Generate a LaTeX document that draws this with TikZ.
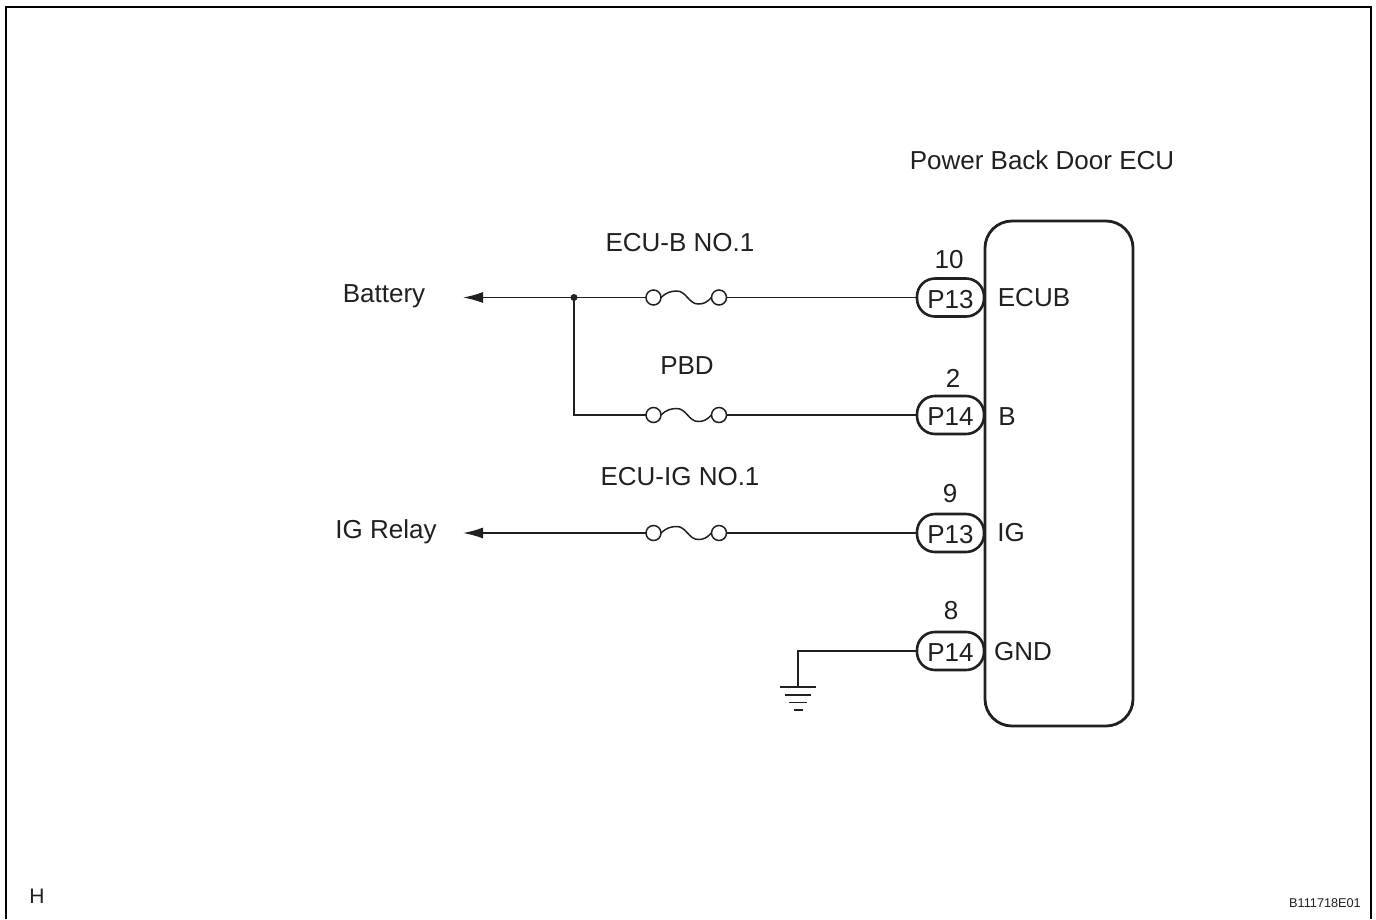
\documentclass[tikz,border=0pt]{standalone}
\usepackage{fontspec}
\setmainfont{Liberation Sans}
\usetikzlibrary{arrows.meta,calc}
\definecolor{ink}{RGB}{35,31,32}
\tikzset{
  txt/.style={anchor=base,inner sep=0pt,outer sep=0pt,text=ink,font=\fontsize{26}{30}\selectfont},
  smalltxt/.style={anchor=base,inner sep=0pt,outer sep=0pt,text=ink,font=\fontsize{12.7}{15}\selectfont},
  wire/.style={draw=ink,line width=1.5pt},
  pin/.style={draw=ink,line width=2.6pt,rounded corners=18pt,minimum width=67pt,minimum height=38pt,inner sep=0pt,outer sep=0pt,text=ink,font=\fontsize{26}{30}\selectfont},
  fuseend/.style={circle,draw=ink,line width=1.5pt,minimum size=15pt,inner sep=0pt,outer sep=0pt},
  ecubox/.style={draw=ink,line width=2.8pt,rounded corners=27pt,minimum width=148pt,minimum height=505pt,inner sep=0pt,outer sep=0pt},
  dot/.style={circle,fill=ink,minimum size=7pt,inner sep=0pt,outer sep=0pt},
  tip/.style={-{Latex[length=20pt,width=11pt]}}
}
\newcommand{\fusewave}[2]{\draw[wire] (#1.east) .. controls +(5,-5) and +(-6,0) .. ($(#1.east)+(16,-6.5)$) .. controls +(9,0) and +(-9,0) .. ($(#1.east)+(37,6.5)$) .. controls +(6,0) and +(-5,5) .. (#2.west);}
\newcommand{\pintext}[1]{\raisebox{-1.5pt}[\height][0pt]{#1}}
\begin{document}
\begin{tikzpicture}[x=1pt,y=-1pt]
\useasboundingbox (0,0) rectangle (1376,919);
\draw[black,line width=2pt] (6,919) -- (6,6.5) -- (1371,6.5) -- (1371,919);

\node[ecubox] (ecu) at (1059,473.5) {};

\node[pin] (p1) at (950.5,297.5) {\pintext{P13}};
\node[pin] (p2) at (950.5,415) {\pintext{P14}};
\node[pin] (p3) at (950.5,533) {\pintext{P13}};
\node[pin] (p4) at (950.5,651) {\pintext{P14}};

\node[fuseend] (f1a) at (653.5,297.5) {};
\node[fuseend] (f1b) at (719,297.5) {};
\node[fuseend] (f2a) at (653.5,415) {};
\node[fuseend] (f2b) at (719,415) {};
\node[fuseend] (f3a) at (653.5,533) {};
\node[fuseend] (f3b) at (719,533) {};
\node[dot] (j) at (574,297.5) {};
\coordinate (battip) at (463,297.5);
\coordinate (igtip) at (463,533);
\coordinate (gnd) at (798,687);

\draw[wire,tip] (f1a) -- (battip);
\draw[wire] (f1b) -- (p1.west);
\draw[wire] (j.center) |- (f2a);
\draw[wire] (f2b) -- (p2.west);
\draw[wire,tip] (f3a) -- (igtip);
\draw[wire] (f3b) -- (p3.west);
\draw[wire] (p4) -| (gnd);
\fusewave{f1a}{f1b}
\fusewave{f2a}{f2b}
\fusewave{f3a}{f3b}

\draw[wire] (780,687) -- (816,687);
\draw[wire] (785,695) -- (811,695);
\draw[wire] (789,702.5) -- (807,702.5);
\draw[wire] (794,710) -- (803,710);

\node[txt] (t0) at (1042,169) {Power Back Door ECU};
\node[txt] (t1) at (680,251) {ECU-B NO.1};
\node[txt] (t2) at (687,374) {PBD};
\node[txt] (t3) at (680,485) {ECU-IG NO.1};
\node[txt] (t4) at (384,302) {Battery};
\node[txt] (t5) at (386,538) {IG Relay};
\node[txt] (n1) at (949,268) {10};
\node[txt] (n2) at (953,387) {2};
\node[txt] (n3) at (950,502) {9};
\node[txt] (n4) at (951,619) {8};
\node[txt] (s1) at (1034,306) {ECUB};
\node[txt] (s2) at (1007,425) {B};
\node[txt] (s3) at (1011,541) {IG};
\node[txt] (s4) at (1023,660) {GND};
\node[txt,font=\fontsize{21}{26}\selectfont] (h) at (37,903.5) {H};
\node[smalltxt] (code) at (1325,907) {B111718E01};
\end{tikzpicture}
\end{document}
